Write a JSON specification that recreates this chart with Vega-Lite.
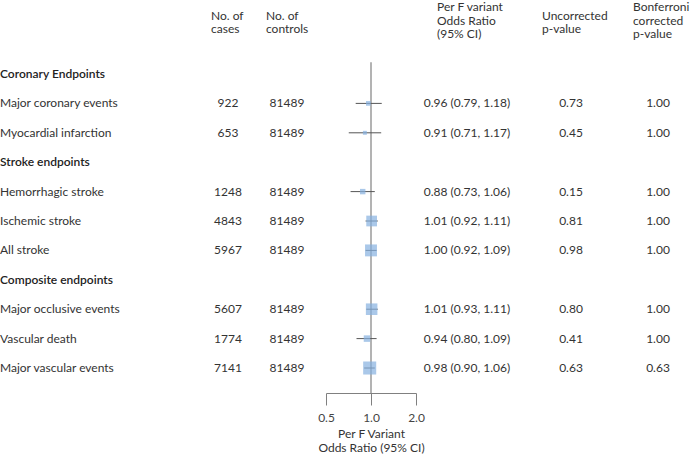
{
  "$schema": "https://vega.github.io/schema/vega-lite/v6.json",
  "width": 690,
  "height": 393,
  "autosize": "none",
  "padding": {"left": 0, "top": 0, "right": 0, "bottom": 62},
  "background": "white",
  "config": {
    "view": {"stroke": null},
    "font": "Lato",
    "text": {"font": "Lato", "fontSize": 12, "color": "#333"}
  },
  "data": {
    "values": [
      {"row": 1, "kind": "section", "label": "Coronary Endpoints"},
      {"row": 2, "kind": "item", "label": "Major coronary events", "cases": 922, "controls": 81489, "or": 0.96, "lo": 0.79, "hi": 1.18, "ortext": "0.96 (0.79, 1.18)", "p": "0.73", "pb": "1.00"},
      {"row": 3, "kind": "item", "label": "Myocardial infarction", "cases": 653, "controls": 81489, "or": 0.91, "lo": 0.71, "hi": 1.17, "ortext": "0.91 (0.71, 1.17)", "p": "0.45", "pb": "1.00"},
      {"row": 4, "kind": "section", "label": "Stroke endpoints"},
      {"row": 5, "kind": "item", "label": "Hemorrhagic stroke", "cases": 1248, "controls": 81489, "or": 0.88, "lo": 0.73, "hi": 1.06, "ortext": "0.88 (0.73, 1.06)", "p": "0.15", "pb": "1.00"},
      {"row": 6, "kind": "item", "label": "Ischemic stroke", "cases": 4843, "controls": 81489, "or": 1.01, "lo": 0.92, "hi": 1.11, "ortext": "1.01 (0.92, 1.11)", "p": "0.81", "pb": "1.00"},
      {"row": 7, "kind": "item", "label": "All stroke", "cases": 5967, "controls": 81489, "or": 1.00, "lo": 0.92, "hi": 1.09, "ortext": "1.00 (0.92, 1.09)", "p": "0.98", "pb": "1.00"},
      {"row": 8, "kind": "section", "label": "Composite endpoints"},
      {"row": 9, "kind": "item", "label": "Major occlusive events", "cases": 5607, "controls": 81489, "or": 1.01, "lo": 0.93, "hi": 1.11, "ortext": "1.01 (0.93, 1.11)", "p": "0.80", "pb": "1.00"},
      {"row": 10, "kind": "item", "label": "Vascular death", "cases": 1774, "controls": 81489, "or": 0.94, "lo": 0.80, "hi": 1.09, "ortext": "0.94 (0.80, 1.09)", "p": "0.41", "pb": "1.00"},
      {"row": 11, "kind": "item", "label": "Major vascular events", "cases": 7141, "controls": 81489, "or": 0.98, "lo": 0.90, "hi": 1.06, "ortext": "0.98 (0.90, 1.06)", "p": "0.63", "pb": "0.63"}
    ]
  },
  "encoding": {
    "y": {"field": "row", "type": "quantitative", "scale": {"domain": [-1.517, 11.85], "reverse": true, "nice": false, "zero": false}, "axis": null}
  },
  "layer": [
    {
      "data": {"values": [{"ref": 1, "row": 0.6, "rowEnd": 11.85}]},
      "mark": {"type": "rule", "color": "#9a9a9a", "strokeWidth": 1.5},
      "encoding": {
        "x": {"field": "ref", "type": "quantitative", "scale": {"type": "log", "domain": [0.5, 2], "range": [326, 416], "nice": false, "zero": false},
          "axis": {"values": [0.5, 1, 2], "format": ".1f", "tickSize": 12, "tickColor": "#808080", "domainColor": "#808080", "labelColor": "#444", "labelFontSize": 12, "labelPadding": 7, "labelFont": "Lato", "labelFlush": false, "title": ["Per F Variant", "Odds Ratio (95% CI)"], "titleFont": "Lato", "titleFontWeight": "normal", "titleFontSize": 12, "titleColor": "#333", "titlePadding": 5, "titleLineHeight": 14, "grid": false}},
        "y2": {"field": "rowEnd"}
      }
    },
    {
      "transform": [{"filter": "datum.kind == 'item'"}],
      "mark": {"type": "rule", "color": "#555", "strokeWidth": 1},
      "encoding": {
        "x": {"field": "lo", "type": "quantitative"},
        "x2": {"field": "hi"}
      }
    },
    {
      "transform": [{"filter": "datum.kind == 'item'"}],
      "mark": {"type": "square", "filled": true, "color": "#86b1e0", "opacity": 0.7},
      "encoding": {
        "x": {"field": "or", "type": "quantitative"},
        "size": {"field": "cases", "type": "quantitative", "scale": {"domain": [0, 7141], "range": [0, 170]}, "legend": null}
      }
    },
    {
      "transform": [{"filter": "datum.kind == 'section'"}],
      "mark": {"type": "text", "align": "left", "baseline": "middle", "fontWeight": 600, "color": "#222"},
      "encoding": {"x": {"value": 0}, "text": {"field": "label"}}
    },
    {
      "transform": [{"filter": "datum.kind == 'item'"}],
      "mark": {"type": "text", "align": "left", "baseline": "middle"},
      "encoding": {"x": {"value": 0}, "text": {"field": "label"}}
    },
    {
      "transform": [{"filter": "datum.kind == 'item'"}],
      "mark": {"type": "text", "align": "center", "baseline": "middle"},
      "encoding": {"x": {"value": 228}, "text": {"field": "cases"}}
    },
    {
      "transform": [{"filter": "datum.kind == 'item'"}],
      "mark": {"type": "text", "align": "center", "baseline": "middle"},
      "encoding": {"x": {"value": 287}, "text": {"field": "controls"}}
    },
    {
      "transform": [{"filter": "datum.kind == 'item'"}],
      "mark": {"type": "text", "align": "center", "baseline": "middle"},
      "encoding": {"x": {"value": 467}, "text": {"field": "ortext"}}
    },
    {
      "transform": [{"filter": "datum.kind == 'item'"}],
      "mark": {"type": "text", "align": "center", "baseline": "middle"},
      "encoding": {"x": {"value": 571}, "text": {"field": "p"}}
    },
    {
      "transform": [{"filter": "datum.kind == 'item'"}],
      "mark": {"type": "text", "align": "center", "baseline": "middle"},
      "encoding": {"x": {"value": 658}, "text": {"field": "pb"}}
    },
    {
      "data": {"values": [{"row": -1.143, "h": ["No. of", "cases"]}]},
      "mark": {"type": "text", "align": "left", "baseline": "top", "lineHeight": 13.5},
      "encoding": {"x": {"value": 211}, "text": {"field": "h"}}
    },
    {
      "data": {"values": [{"row": -1.143, "h": ["No. of", "controls"]}]},
      "mark": {"type": "text", "align": "left", "baseline": "top", "lineHeight": 13.5},
      "encoding": {"x": {"value": 266}, "text": {"field": "h"}}
    },
    {
      "data": {"values": [{"row": -1.445, "h": ["Per F variant", "Odds Ratio", "(95% CI)"]}]},
      "mark": {"type": "text", "align": "left", "baseline": "top", "lineHeight": 13.5},
      "encoding": {"x": {"value": 437}, "text": {"field": "h"}}
    },
    {
      "data": {"values": [{"row": -1.143, "h": ["Uncorrected", "p-value"]}]},
      "mark": {"type": "text", "align": "left", "baseline": "top", "lineHeight": 13.5},
      "encoding": {"x": {"value": 542}, "text": {"field": "h"}}
    },
    {
      "data": {"values": [{"row": -1.445, "h": ["Bonferroni", "corrected", "p-value"]}]},
      "mark": {"type": "text", "align": "left", "baseline": "top", "lineHeight": 13.5},
      "encoding": {"x": {"value": 633}, "text": {"field": "h"}}
    }
  ]
}
